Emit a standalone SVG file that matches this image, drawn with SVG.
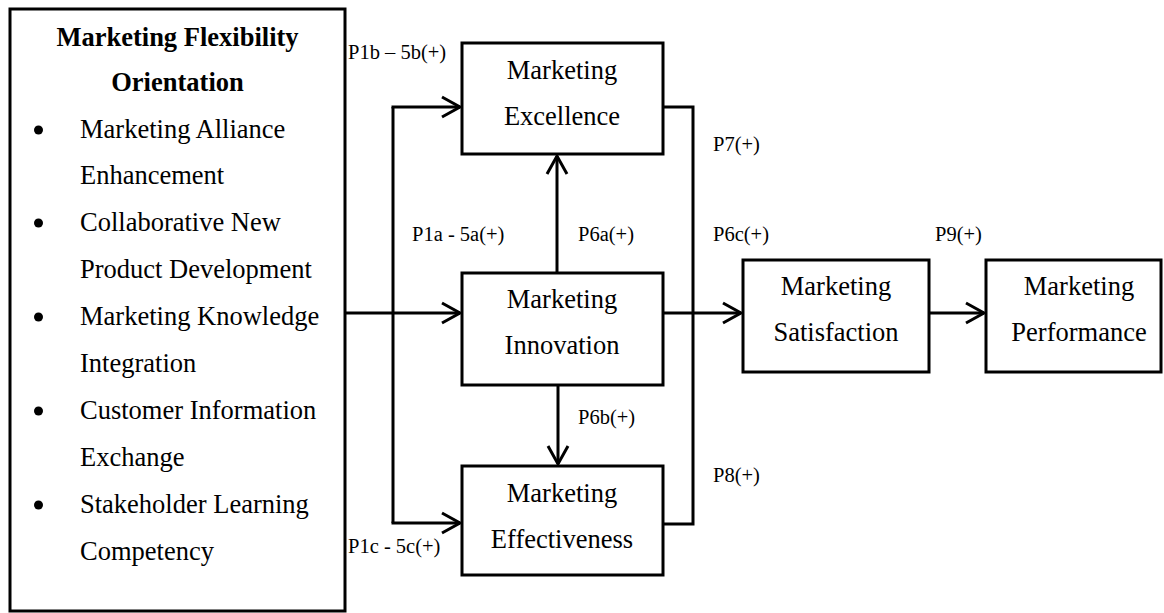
<svg xmlns="http://www.w3.org/2000/svg" width="1164" height="613" viewBox="0 0 1164 613">
  <defs>
    <marker id="arrow" markerUnits="userSpaceOnUse" markerWidth="24" markerHeight="26" viewBox="-20 -12 24 24" refX="0" refY="0" orient="auto">
      <path d="M-18,-10 L0,0 L-18,10" fill="none" stroke="#000" stroke-width="3"/>
    </marker>
    <style>
      .box { fill: #fff; stroke: #000; stroke-width: 3; }
      .t { font-family: "Liberation Serif", "Times New Roman", serif; font-size: 26.5px; fill: #000; }
      .tb { font-family: "Liberation Serif", "Times New Roman", serif; font-size: 26.5px; font-weight: bold; fill: #000; }
      .lbl { font-family: "Liberation Serif", "Times New Roman", serif; font-size: 20.5px; fill: #000; }
      .c { text-anchor: middle; }
      .wire { fill: none; stroke: #000; stroke-width: 3; }
      .arr { fill: none; stroke: #000; stroke-width: 3; marker-end: url(#arrow); }
    </style>
  </defs>
  <rect width="1164" height="613" fill="#fff"/>

  <!-- connectors -->
  <g id="connectors">
    <path class="arr" d="M345,313 L460,313"/>
    <path class="wire" d="M393,313 L393,107"/>
    <path class="wire" d="M393,313 L393,523"/>
    <path class="arr" d="M391.5,107 L460,107"/>
    <path class="arr" d="M391.5,523 L460,523"/>
    <path class="arr" d="M557,273 L557,156"/>
    <path class="arr" d="M558,385 L558,464"/>
    <path class="wire" d="M663,107 L693,107 L693,524 L663,524"/>
    <path class="arr" d="M663,313 L741,313"/>
    <path class="arr" d="M929,313 L984,313"/>
  </g>

  <!-- connector labels -->
  <g id="labels">
    <text class="lbl" x="348" y="59">P1b – 5b(+)</text>
    <text class="lbl" x="412" y="241">P1a - 5a(+)</text>
    <text class="lbl" x="348" y="553">P1c - 5c(+)</text>
    <text class="lbl" x="578" y="241">P6a(+)</text>
    <text class="lbl" x="578" y="424">P6b(+)</text>
    <text class="lbl" x="713" y="151">P7(+)</text>
    <text class="lbl" x="713" y="241">P6c(+)</text>
    <text class="lbl" x="713" y="482">P8(+)</text>
    <text class="lbl" x="935" y="241">P9(+)</text>
  </g>

  <!-- antecedent construct with its dimensions -->
  <g id="flexibility">
    <rect class="box" x="10" y="9" width="335" height="602"/>
    <text class="tb c" x="177.5" y="46">Marketing Flexibility</text>
    <text class="tb c" x="177.5" y="91">Orientation</text>
    <circle cx="38.5" cy="130" r="4.5"/>
    <text class="t" x="80" y="138">Marketing Alliance</text>
    <text class="t" x="80" y="184">Enhancement</text>
    <circle cx="38.5" cy="223" r="4.5"/>
    <text class="t" x="80" y="231">Collaborative New</text>
    <text class="t" x="80" y="278">Product Development</text>
    <circle cx="38.5" cy="317" r="4.5"/>
    <text class="t" x="80" y="325">Marketing Knowledge</text>
    <text class="t" x="80" y="372">Integration</text>
    <circle cx="38.5" cy="411" r="4.5"/>
    <text class="t" x="80" y="419">Customer Information</text>
    <text class="t" x="80" y="466">Exchange</text>
    <circle cx="38.5" cy="505" r="4.5"/>
    <text class="t" x="80" y="513">Stakeholder Learning</text>
    <text class="t" x="80" y="560">Competency</text>
  </g>

  <g id="excellence">
    <rect class="box" x="462" y="43" width="201" height="111"/>
    <text class="t c" x="562" y="79">Marketing</text>
    <text class="t c" x="562" y="125">Excellence</text>
  </g>

  <g id="innovation">
    <rect class="box" x="462" y="273" width="201" height="112"/>
    <text class="t c" x="562" y="308">Marketing</text>
    <text class="t c" x="562" y="354">Innovation</text>
  </g>

  <g id="effectiveness">
    <rect class="box" x="462" y="466" width="201" height="109"/>
    <text class="t c" x="562" y="502">Marketing</text>
    <text class="t c" x="562" y="548">Effectiveness</text>
  </g>

  <g id="satisfaction">
    <rect class="box" x="743" y="260" width="186" height="112"/>
    <text class="t c" x="836" y="295">Marketing</text>
    <text class="t c" x="836" y="341">Satisfaction</text>
  </g>

  <g id="performance">
    <rect class="box" x="986" y="260" width="175" height="112"/>
    <text class="t c" x="1079" y="295">Marketing</text>
    <text class="t c" x="1079" y="341">Performance</text>
  </g>
</svg>
